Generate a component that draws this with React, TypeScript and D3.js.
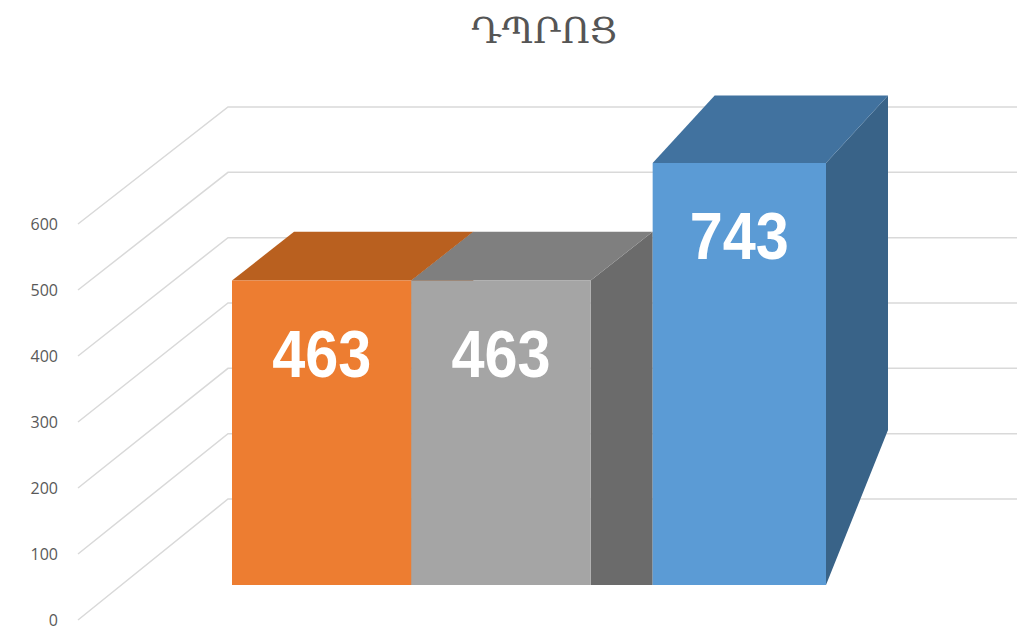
import React, { useEffect } from "react";
import * as d3 from "d3";

const title = "ԴՊՐՈՑ";
const seriesNames = ["Series 1", "Series 2", "Series 3"];
const seriesValues = [463, 463, 743];
const axisTicks = [0, 100, 200, 300, 400, 500, 600];

const frontColors = ["#ED7D31", "#A5A5A5", "#5B9BD5"];
const topColors = ["#B9601F", "#7F7F7F", "#41729F"];
const sideColors = ["#A9561B", "#6B6B6B", "#396388"];

const W = 1017;
const H = 630;

export default function App() {
  useEffect(() => {
    document.body.style.margin = "0";
  }, []);

  // axis walls
  const yFront = d3.scaleLinear().domain([0, 600]).range([620, 224]);
  const yBack = d3.scaleLinear().domain([0, 600]).range([499, 107]);
  const frontX = 78;
  const backX = 228;

  // bars
  const baseY = 585;
  const depthDx = 62;
  const x = d3.scaleBand<string>().domain(seriesNames).range([232, 770]).paddingInner(0);
  const lastShift = depthDx;
  const yBar = d3
    .scalePow()
    .exponent(0.69)
    .domain([0, d3.max(seriesValues) as number])
    .range([baseY, 163]);
  const topDy = (h: number) => -0.16 * h;
  const floorCut = -155;

  const bars = seriesNames.map((s, i) => {
    const isLast = i === seriesNames.length - 1;
    const x0 = (x(s) as number) + (isLast ? lastShift : 0);
    const bw = x.bandwidth() - (isLast ? 6 : 0);
    const yt = yBar(seriesValues[i]);
    const h = baseY - yt;
    const dy = topDy(h);
    const x1 = x0 + bw;
    const front = `M${x0},${baseY}L${x0},${yt}L${x1},${yt}L${x1},${baseY}Z`;
    const top = `M${x0},${yt}L${x0 + depthDx},${yt + dy}L${x1 + depthDx},${yt + dy}L${x1},${yt}Z`;
    const side = `M${x1},${baseY}L${x1},${yt}L${x1 + depthDx},${yt + dy}L${x1 + depthDx},${
      isLast ? baseY + floorCut : baseY
    }Z`;
    return { s, i, x0, x1, yt, front, top, side, value: seriesValues[i] };
  });

  return (
    <svg
      width={W}
      height={H}
      style={{ display: "block", position: "absolute", left: 0, top: 0, background: "#fff" }}
    >
      <text
        x={544}
        y={43}
        textAnchor="middle"
        fontFamily="'DejaVu Serif', serif"
        fontSize={36}
        fill="#555555"
      >
        {title}
      </text>

      {axisTicks.map((t) => (
        <g key={t}>
          <path
            d={`M${frontX},${yFront(t)}L${backX},${yBack(t)}L${W},${yBack(t)}`}
            fill="none"
            stroke="#D9D9D9"
            strokeWidth={1.5}
          />
          <text
            x={58}
            y={yFront(t)}
            dy="0.35em"
            textAnchor="end"
            fontFamily="'Open Sans', sans-serif"
            fontSize={16}
            fill="#595959"
          >
            {t}
          </text>
        </g>
      ))}

      {bars.map((b) => (
        <g key={b.s}>
          <path d={b.side} fill={sideColors[b.i]} />
          <path d={b.top} fill={topColors[b.i]} />
          <path d={b.front} fill={frontColors[b.i]} />
        </g>
      ))}

      {bars.map((b) => (
        <text
          key={"l" + b.s}
          transform={`translate(${(b.x0 + b.x1) / 2},${b.yt + 96}) scale(0.9,1)`}
          textAnchor="middle"
          fontFamily="'Liberation Sans Narrow', 'Arial Narrow', 'Liberation Sans', sans-serif"
          fontWeight="bold"
          fontSize={66}
          fill="#FFFFFF"
        >
          {b.value}
        </text>
      ))}
    </svg>
  );
}
